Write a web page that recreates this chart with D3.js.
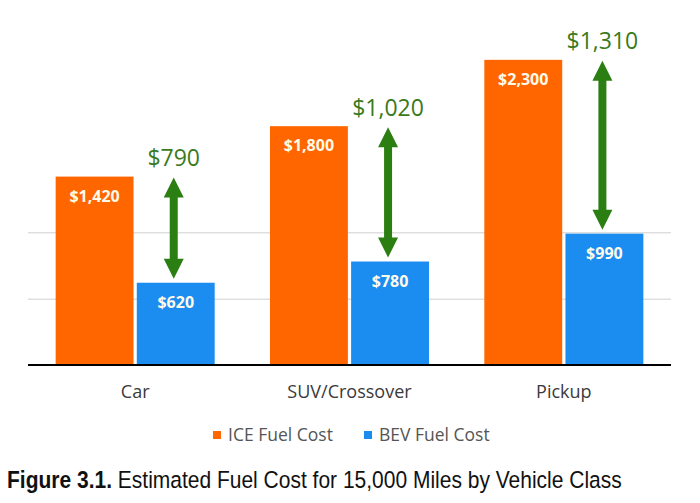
<!DOCTYPE html>
<html>
<head>
<meta charset="utf-8">
<script src="https://cdn.jsdelivr.net/npm/d3@7/dist/d3.min.js"></script>
<style>
  html, body { margin: 0; padding: 0; background: #fff; }
  svg { display: block; }
</style>
</head>
<body>
<svg id="chart" width="700" height="503"></svg>
<script>
// ---- data ----
const categories = ["Car", "SUV/Crossover", "Pickup"];
const seriesNames = ["ICE Fuel Cost", "BEV Fuel Cost"];
const iceValues = [1420, 1800, 2300];
const bevValues = [620, 780, 990];
const diffValues = [790, 1020, 1310];   // savings labels as printed
const gridValues = [500, 1000];
const captionBold = "Figure 3.1.";
const captionText = " Estimated Fuel Cost for 15,000 Miles by Vehicle Class";

// ---- style ----
const colors = { "ICE Fuel Cost": "#ff6600", "BEV Fuel Cost": "#1b8cf0" };
const arrowColor = "#2b7f12";
const diffTextColor = "#3a7a1c";

const svg = d3.select("#chart");
const left = 28, right = 671, baseY = 365;

const x0 = d3.scaleBand().domain(categories).range([left, right])
  .paddingInner(0.258).paddingOuter(0.129);
const x1 = d3.scaleBand().domain(seriesNames).range([0, x0.bandwidth()])
  .paddingInner(0.04);
const y = d3.scaleLinear().domain([0, 2500]).range([baseY, baseY - 331.7]);

const fmt = v => "$" + d3.format(",")(v);

// gridlines
svg.append("g").selectAll("line").data(gridValues).join("line")
  .attr("x1", left).attr("x2", right)
  .attr("y1", d => y(d) + 0.5).attr("y2", d => y(d) + 0.5)
  .attr("stroke", "#cfcfcf").attr("stroke-width", 1);

const rows = categories.map((c, i) => ({ cat: c, diff: diffValues[i], vals: [
  { s: seriesNames[0], v: iceValues[i] },
  { s: seriesNames[1], v: bevValues[i] } ] }));

const groups = svg.append("g").selectAll("g").data(rows).join("g")
  .attr("transform", d => `translate(${x0(d.cat)},0)`);

groups.selectAll("rect").data(d => d.vals).join("rect")
  .attr("x", d => x1(d.s)).attr("width", x1.bandwidth())
  .attr("y", d => y(d.v)).attr("height", d => y(0) - y(d.v))
  .attr("fill", d => colors[d.s]);

groups.selectAll("text.val").data(d => d.vals).join("text")
  .attr("class", "val")
  .attr("x", d => x1(d.s) + x1.bandwidth() / 2)
  .attr("y", d => y(d.v) + 25)
  .attr("text-anchor", "middle")
  .attr("font-family", "'Open Sans', sans-serif")
  .attr("font-weight", 700).attr("font-size", 16)
  .attr("fill", "#fffbea")
  .text(d => fmt(d.v));

// axis baseline
svg.append("line").attr("x1", left).attr("x2", right)
  .attr("y1", baseY).attr("y2", baseY)
  .attr("stroke", "#000").attr("stroke-width", 2);

// category labels
svg.append("g").selectAll("text").data(categories).join("text")
  .attr("x", d => x0(d) + x0.bandwidth() / 2)
  .attr("y", 398)
  .attr("text-anchor", "middle")
  .attr("font-family", "'Open Sans', sans-serif")
  .attr("font-size", 18).attr("fill", "#3a3a3a")
  .text(d => d);

// difference arrows
const arrows = svg.append("g").selectAll("g").data(rows).join("g");
arrows.each(function(d) {
  const g = d3.select(this);
  const ice = d.vals[0].v, bev = d.vals[1].v;
  const cx = x0(d.cat) + x1(seriesNames[1]) + x1.bandwidth() / 2 - 2;
  const top = y(ice) + 1, bot = y(bev) - 4;
  const hw = 10, hh = 20, sw = 4;
  const path = [
    [cx, top], [cx + hw, top + hh], [cx + sw, top + hh],
    [cx + sw, bot - hh], [cx + hw, bot - hh], [cx, bot],
    [cx - hw, bot - hh], [cx - sw, bot - hh], [cx - sw, top + hh],
    [cx - hw, top + hh]
  ];
  g.append("path").attr("d", d3.line()(path) + "Z").attr("fill", arrowColor);
  g.append("text")
    .attr("x", cx).attr("y", y(ice) - 10.5)
    .attr("text-anchor", "middle")
    .attr("font-family", "'Open Sans', sans-serif")
    .attr("font-size", 23).attr("fill", diffTextColor)
    .text(fmt(d.diff));
});

// legend
const legendItems = [
  { name: seriesNames[0], sx: 213, tx: 228 },
  { name: seriesNames[1], sx: 364, tx: 379 }
];
const lg = svg.append("g").selectAll("g").data(legendItems).join("g");
lg.append("rect").attr("x", d => d.sx).attr("y", 431).attr("width", 8).attr("height", 8)
  .attr("fill", d => colors[d.name]);
lg.append("text").attr("x", d => d.tx).attr("y", 441)
  .attr("font-family", "'Open Sans', sans-serif")
  .attr("font-size", 17.5).attr("fill", "#555")
  .text(d => d.name);

// caption
const cap = svg.append("text")
  .attr("transform", "translate(7,488) scale(1,1.18)")
  .attr("font-family", "'Liberation Sans', Arial, sans-serif")
  .attr("font-size", 21).attr("fill", "#111");
cap.append("tspan").attr("font-weight", 700).text(captionBold);
cap.append("tspan").text(captionText);
</script>
</body>
</html>
